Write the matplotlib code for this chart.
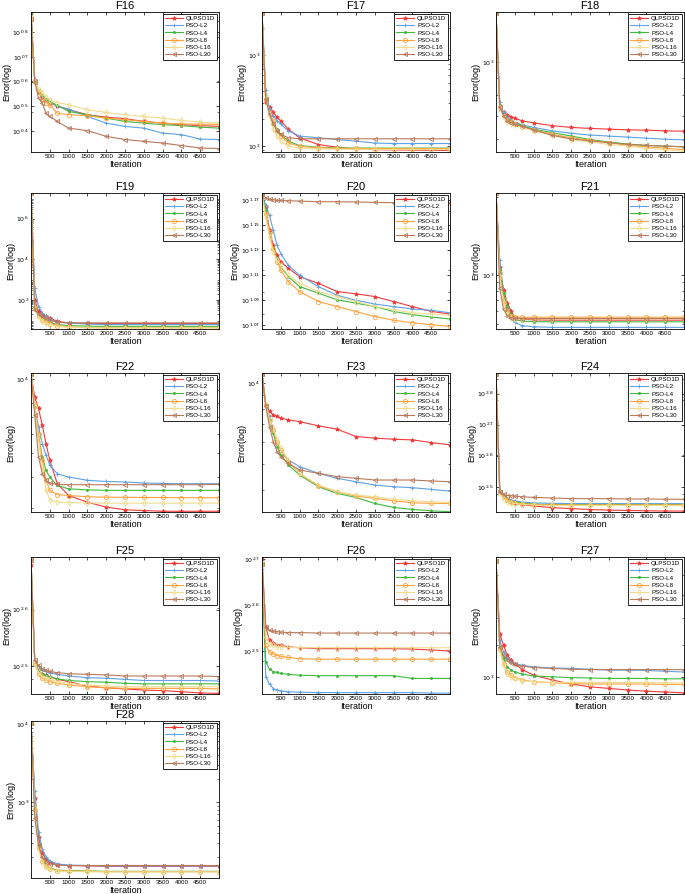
import numpy as np
import matplotlib.pyplot as plt
from matplotlib.ticker import FixedLocator, FuncFormatter, NullFormatter, LogLocator

plt.rcParams['font.family'] = ['Liberation Sans', 'DejaVu Sans']

iterations = [1, 100, 200, 300, 400, 500, 700, 1000, 1500, 2000, 2500, 3000, 3500, 4000, 4500, 5000]
algorithms = ['QLPSO1D', 'PSO-L2', 'PSO-L4', 'PSO-L8', 'PSO-L16', 'PSO-L30']

# log10 of mean error, one row per algorithm (same order as algorithms)
f16 = [
    [0.876, 0.607, 0.56, 0.54, 0.527, 0.516, 0.503, 0.487, 0.467, 0.457, 0.451, 0.44, 0.433, 0.427, 0.423, 0.42],
    [0.87, 0.60, 0.56, 0.54, 0.528, 0.516, 0.50, 0.49, 0.46, 0.433, 0.42, 0.413, 0.393, 0.387, 0.369, 0.367],
    [0.87, 0.60, 0.565, 0.545, 0.53, 0.52, 0.505, 0.48, 0.467, 0.453, 0.44, 0.433, 0.427, 0.423, 0.417, 0.413],
    [0.86, 0.60, 0.56, 0.53, 0.515, 0.507, 0.473, 0.467, 0.463, 0.453, 0.447, 0.44, 0.433, 0.43, 0.429, 0.428],
    [0.85, 0.60, 0.57, 0.553, 0.54, 0.527, 0.516, 0.507, 0.487, 0.476, 0.467, 0.46, 0.453, 0.444, 0.437, 0.433],
    [0.85, 0.60, 0.533, 0.513, 0.473, 0.46, 0.44, 0.413, 0.403, 0.38, 0.367, 0.36, 0.353, 0.343, 0.333, 0.331],
]
f17 = [
    [3.46, 2.485, 2.43, 2.373, 2.317, 2.28, 2.187, 2.093, 2.019, 1.989, 1.97, 1.963, 1.96, 1.958, 1.956, 1.955],
    [3.46, 2.616, 2.41, 2.336, 2.28, 2.243, 2.168, 2.112, 2.093, 2.075, 2.056, 2.035, 2.03, 2.03, 2.03, 2.03],
    [3.46, 2.522, 2.336, 2.261, 2.187, 2.13, 2.056, 2.007, 1.989, 1.982, 1.98, 1.98, 1.98, 1.98, 1.98, 1.98],
    [3.46, 2.52, 2.37, 2.28, 2.168, 2.112, 2.037, 2.0, 1.985, 1.978, 1.976, 1.975, 1.975, 1.975, 1.975, 1.975],
    [3.46, 2.56, 2.336, 2.187, 2.112, 2.056, 2.0, 1.98, 1.97, 1.968, 1.966, 1.965, 1.965, 1.965, 1.965, 1.965],
    [3.46, 2.52, 2.355, 2.243, 2.168, 2.13, 2.093, 2.082, 2.082, 2.082, 2.082, 2.082, 2.082, 2.082, 2.082, 2.082],
]
f18 = [
    [3.14, 2.865, 2.855, 2.847, 2.842, 2.837, 2.83, 2.824, 2.816, 2.811, 2.808, 2.806, 2.804, 2.803, 2.801, 2.8],
    [3.14, 2.884, 2.855, 2.84, 2.832, 2.825, 2.818, 2.811, 2.801, 2.794, 2.789, 2.786, 2.783, 2.78, 2.777, 2.775],
    [3.14, 2.875, 2.847, 2.835, 2.829, 2.824, 2.816, 2.806, 2.796, 2.786, 2.776, 2.769, 2.763, 2.759, 2.757, 2.755],
    [3.14, 2.87, 2.845, 2.833, 2.826, 2.82, 2.811, 2.804, 2.791, 2.781, 2.774, 2.767, 2.759, 2.755, 2.751, 2.747],
    [3.14, 2.867, 2.84, 2.827, 2.822, 2.818, 2.811, 2.801, 2.788, 2.776, 2.769, 2.762, 2.757, 2.751, 2.747, 2.742],
    [3.14, 2.87, 2.845, 2.83, 2.825, 2.82, 2.814, 2.804, 2.788, 2.778, 2.772, 2.767, 2.762, 2.759, 2.757, 2.755],
]
f19 = [
    [7.25, 2.0, 1.43, 1.27, 1.18, 1.1, 0.94, 0.86, 0.84, 0.83, 0.83, 0.83, 0.83, 0.83, 0.83, 0.83],
    [7.25, 2.57, 1.67, 1.35, 1.18, 1.05, 0.9, 0.86, 0.8, 0.78, 0.78, 0.78, 0.78, 0.78, 0.78, 0.78],
    [7.25, 1.67, 1.27, 1.1, 0.98, 0.89, 0.78, 0.73, 0.7, 0.69, 0.69, 0.69, 0.69, 0.69, 0.69, 0.69],
    [7.25, 1.59, 1.22, 1.02, 0.9, 0.83, 0.73, 0.66, 0.63, 0.62, 0.62, 0.62, 0.62, 0.62, 0.62, 0.62],
    [7.25, 1.54, 1.18, 0.94, 0.85, 0.78, 0.69, 0.64, 0.62, 0.61, 0.61, 0.61, 0.61, 0.61, 0.61, 0.61],
    [7.25, 1.51, 1.31, 1.18, 1.1, 1.02, 0.89, 0.86, 0.86, 0.86, 0.86, 0.86, 0.86, 0.86, 0.86, 0.86],
]
f20 = [
    [1.175, 1.1646, 1.146, 1.134, 1.126, 1.121, 1.1156, 1.109, 1.1036, 1.097, 1.0952, 1.093, 1.089, 1.085, 1.0811, 1.079],
    [1.175, 1.166, 1.158, 1.146, 1.134, 1.1275, 1.118, 1.11, 1.101, 1.094, 1.09, 1.087, 1.085, 1.083, 1.082, 1.08],
    [1.175, 1.162, 1.143, 1.1314, 1.1235, 1.117, 1.109, 1.101, 1.0957, 1.0904, 1.0877, 1.085, 1.081, 1.0785, 1.0766, 1.075],
    [1.175, 1.159, 1.145, 1.131, 1.121, 1.114, 1.105, 1.097, 1.089, 1.085, 1.081, 1.077, 1.074, 1.072, 1.0705, 1.069],
    [1.175, 1.1566, 1.1407, 1.129, 1.122, 1.118, 1.11, 1.1036, 1.097, 1.093, 1.089, 1.085, 1.0825, 1.08, 1.079, 1.078],
    [1.175, 1.172, 1.171, 1.1705, 1.170, 1.170, 1.1698, 1.1695, 1.169, 1.169, 1.1688, 1.1685, 1.1682, 1.168, 1.1679, 1.1678],
]
f21 = [
    [3.5, 3.05, 2.91, 2.83, 2.78, 2.74, 2.73, 2.726, 2.724, 2.724, 2.724, 2.724, 2.724, 2.724, 2.724, 2.724],
    [3.5, 3.09, 2.89, 2.79, 2.74, 2.71, 2.69, 2.684, 2.68, 2.68, 2.68, 2.68, 2.68, 2.68, 2.68, 2.68],
    [3.5, 3.03, 2.89, 2.81, 2.76, 2.73, 2.718, 2.715, 2.714, 2.714, 2.714, 2.714, 2.714, 2.714, 2.714, 2.714],
    [3.5, 3.01, 2.85, 2.78, 2.75, 2.742, 2.742, 2.742, 2.742, 2.742, 2.742, 2.742, 2.742, 2.742, 2.742, 2.742],
    [3.5, 2.99, 2.83, 2.764, 2.74, 2.733, 2.732, 2.732, 2.732, 2.732, 2.732, 2.732, 2.732, 2.732, 2.732, 2.732],
    [3.5, 2.92, 2.79, 2.752, 2.738, 2.735, 2.734, 2.734, 2.734, 2.734, 2.734, 2.734, 2.734, 2.734, 2.734, 2.734],
]
f22 = [
    [4.02, 3.926, 3.881, 3.813, 3.738, 3.67, 3.575, 3.527, 3.5, 3.48, 3.469, 3.466, 3.463, 3.463, 3.463, 3.463],
    [4.02, 3.888, 3.807, 3.738, 3.691, 3.65, 3.616, 3.602, 3.589, 3.584, 3.582, 3.578, 3.576, 3.575, 3.575, 3.575],
    [4.02, 3.888, 3.766, 3.684, 3.629, 3.602, 3.568, 3.554, 3.55, 3.548, 3.548, 3.548, 3.548, 3.548, 3.548, 3.548],
    [4.02, 3.895, 3.779, 3.67, 3.589, 3.548, 3.531, 3.527, 3.522, 3.52, 3.52, 3.519, 3.519, 3.518, 3.518, 3.518],
    [4.02, 3.888, 3.752, 3.643, 3.548, 3.51, 3.5, 3.498, 3.497, 3.496, 3.496, 3.496, 3.496, 3.496, 3.496, 3.496],
    [4.02, 3.854, 3.684, 3.616, 3.589, 3.578, 3.572, 3.571, 3.571, 3.571, 3.571, 3.571, 3.571, 3.571, 3.571, 3.572],
]
f23 = [
    [4.034, 3.919, 3.894, 3.881, 3.875, 3.869, 3.8625, 3.856, 3.84, 3.8275, 3.8, 3.794, 3.79, 3.7875, 3.7775, 3.769],
    [4.034, 3.919, 3.875, 3.825, 3.781, 3.75, 3.7125, 3.6875, 3.6625, 3.644, 3.631, 3.619, 3.6125, 3.609, 3.6025, 3.596],
    [4.034, 3.919, 3.8625, 3.8125, 3.7625, 3.731, 3.694, 3.656, 3.6125, 3.5875, 3.5725, 3.55, 3.535, 3.5275, 3.5225, 3.519],
    [4.034, 3.919, 3.8625, 3.825, 3.781, 3.75, 3.706, 3.6625, 3.615, 3.594, 3.5775, 3.569, 3.56, 3.5525, 3.55, 3.55],
    [4.034, 3.919, 3.8625, 3.831, 3.7875, 3.756, 3.7125, 3.6625, 3.619, 3.594, 3.581, 3.575, 3.565, 3.56, 3.556, 3.554],
    [4.034, 3.9125, 3.8375, 3.781, 3.744, 3.725, 3.7, 3.675, 3.6625, 3.65, 3.644, 3.6375, 3.6375, 3.6375, 3.634, 3.631],
]
f24 = [
    [2.862, 2.487, 2.468, 2.459, 2.452, 2.448, 2.443, 2.438, 2.433, 2.43, 2.427, 2.425, 2.424, 2.423, 2.422, 2.422],
    [2.862, 2.489, 2.473, 2.462, 2.458, 2.455, 2.451, 2.448, 2.447, 2.446, 2.446, 2.446, 2.446, 2.446, 2.446, 2.446],
    [2.862, 2.484, 2.47, 2.459, 2.455, 2.452, 2.448, 2.444, 2.443, 2.443, 2.443, 2.443, 2.443, 2.443, 2.443, 2.443],
    [2.862, 2.484, 2.468, 2.457, 2.452, 2.448, 2.446, 2.443, 2.442, 2.442, 2.442, 2.442, 2.442, 2.442, 2.442, 2.442],
    [2.862, 2.481, 2.462, 2.452, 2.448, 2.446, 2.444, 2.441, 2.44, 2.44, 2.44, 2.44, 2.44, 2.44, 2.44, 2.44],
    [2.862, 2.484, 2.476, 2.472, 2.471, 2.47, 2.468, 2.466, 2.464, 2.462, 2.462, 2.462, 2.461, 2.461, 2.46, 2.46],
]
f25 = [
    [2.679, 2.507, 2.492, 2.485, 2.483, 2.481, 2.476, 2.472, 2.464, 2.461, 2.459, 2.457, 2.456, 2.454, 2.452, 2.451],
    [2.688, 2.51, 2.499, 2.492, 2.49, 2.488, 2.485, 2.482, 2.479, 2.478, 2.476, 2.474, 2.474, 2.474, 2.474, 2.473],
    [2.688, 2.507, 2.492, 2.486, 2.483, 2.481, 2.477, 2.474, 2.472, 2.471, 2.469, 2.468, 2.468, 2.468, 2.468, 2.468],
    [2.688, 2.504, 2.486, 2.478, 2.475, 2.472, 2.469, 2.466, 2.463, 2.461, 2.46, 2.46, 2.46, 2.46, 2.46, 2.459],
    [2.688, 2.505, 2.489, 2.481, 2.478, 2.476, 2.472, 2.469, 2.466, 2.464, 2.463, 2.463, 2.463, 2.463, 2.463, 2.463],
    [2.688, 2.51, 2.501, 2.495, 2.492, 2.49, 2.488, 2.486, 2.485, 2.484, 2.482, 2.482, 2.482, 2.482, 2.482, 2.481],
]
f26 = [
    [2.704, 2.552, 2.523, 2.517, 2.514, 2.512, 2.509, 2.507, 2.505, 2.505, 2.505, 2.505, 2.505, 2.504, 2.502, 2.5],
    [2.678, 2.444, 2.428, 2.418, 2.415, 2.413, 2.411, 2.41, 2.409, 2.409, 2.409, 2.409, 2.409, 2.409, 2.408, 2.408],
    [2.69, 2.476, 2.46, 2.455, 2.453, 2.451, 2.449, 2.447, 2.446, 2.446, 2.446, 2.446, 2.446, 2.44, 2.44, 2.44],
    [2.69, 2.512, 2.498, 2.493, 2.49, 2.488, 2.486, 2.483, 2.482, 2.482, 2.482, 2.482, 2.482, 2.482, 2.482, 2.482],
    [2.69, 2.53, 2.516, 2.512, 2.51, 2.509, 2.508, 2.507, 2.507, 2.507, 2.507, 2.507, 2.507, 2.507, 2.507, 2.507],
    [2.69, 2.552, 2.545, 2.543, 2.542, 2.541, 2.54, 2.54, 2.539, 2.539, 2.539, 2.539, 2.539, 2.539, 2.539, 2.539],
]
f27 = [
    [3.29, 3.108, 3.079, 3.054, 3.042, 3.033, 3.018, 3.004, 2.992, 2.982, 2.975, 2.971, 2.967, 2.964, 2.962, 2.96],
    [3.3, 3.091, 3.062, 3.046, 3.038, 3.033, 3.029, 3.025, 3.022, 3.021, 3.019, 3.017, 3.017, 3.016, 3.014, 3.012],
    [3.29, 3.075, 3.046, 3.025, 3.017, 3.012, 3.007, 3.002, 3.0, 2.998, 2.997, 2.996, 2.996, 2.996, 2.995, 2.995],
    [3.29, 3.07, 3.033, 3.012, 3.004, 2.998, 2.992, 2.988, 2.985, 2.983, 2.982, 2.982, 2.982, 2.982, 2.981, 2.981],
    [3.29, 3.066, 3.029, 3.008, 3.0, 2.996, 2.99, 2.988, 2.986, 2.986, 2.986, 2.986, 2.986, 2.986, 2.985, 2.985],
    [3.29, 3.075, 3.054, 3.041, 3.035, 3.031, 3.027, 3.023, 3.021, 3.019, 3.018, 3.018, 3.018, 3.018, 3.018, 3.018],
]
f28 = [
    [4.02, 3.05, 2.55, 2.35, 2.27, 2.23, 2.2, 2.19, 2.185, 2.18, 2.18, 2.18, 2.18, 2.18, 2.18, 2.18],
    [4.02, 3.15, 2.62, 2.4, 2.3, 2.25, 2.21, 2.195, 2.19, 2.185, 2.185, 2.185, 2.185, 2.185, 2.185, 2.185],
    [4.02, 2.95, 2.45, 2.27, 2.2, 2.16, 2.13, 2.125, 2.12, 2.115, 2.115, 2.115, 2.115, 2.115, 2.115, 2.115],
    [4.02, 2.9, 2.42, 2.25, 2.18, 2.15, 2.125, 2.12, 2.115, 2.11, 2.11, 2.11, 2.11, 2.11, 2.11, 2.11],
    [4.02, 2.92, 2.4, 2.23, 2.17, 2.14, 2.12, 2.115, 2.11, 2.108, 2.108, 2.108, 2.108, 2.108, 2.108, 2.108],
    [4.02, 2.8, 2.45, 2.3, 2.24, 2.21, 2.195, 2.19, 2.19, 2.19, 2.19, 2.19, 2.19, 2.19, 2.19, 2.19],
]

colors = ['#f23a3a', '#5ea2e2', '#3fba3f', '#ffa23c', '#efdc8e', '#b97a5c']
markers = ['*', '+', '.', 'o', 'd', '<']
hollow = [False, False, False, True, True, True]

# panel: (title, data, log10 y-limits, log10 y-ticks, left px, top px, bottom px)
W, H = 685, 894
cols = [31, 262, 496]
panels = [
    ('F16', f16, (0.317, 0.88), [0.4, 0.5, 0.6, 0.7, 0.8], cols[0], 12, 152),
    ('F17', f17, (1.937, 3.474), [2, 3], cols[1], 12, 152),
    ('F18', f18, (2.74, 3.144), [3], cols[2], 12, 152),
    ('F19', f19, (0.56, 7.27), [2, 4, 6], cols[0], 193, 329),
    ('F20', f20, (1.067, 1.176), [1.07, 1.09, 1.11, 1.13, 1.15, 1.17], cols[1], 193, 329),
    ('F21', f21, (2.67, 3.5), [3], cols[2], 193, 329),
    ('F22', f22, (3.46, 4.025), [4], cols[0], 373, 512),
    ('F23', f23, (3.518, 4.0375), [4], cols[1], 373, 512),
    ('F24', f24, (2.419, 2.866), [2.5, 2.6, 2.7, 2.8], cols[2], 373, 512),
    ('F25', f25, (2.45, 2.6935), [2.5, 2.6], cols[0], 557, 694),
    ('F26', f26, (2.406, 2.705), [2.5, 2.6, 2.7], cols[1], 557, 694),
    ('F27', f27, (2.957, 3.3), [3], cols[2], 557, 694),
    ('F28', f28, (2.03, 4.04), [3, 4], cols[0], 721, 878),
]

fig = plt.figure(figsize=(W / 100, H / 100), dpi=100)
fmt = FuncFormatter(lambda v, p: r'$10^{%g}$' % round(np.log10(v), 2))

for title, data, ylim, yticks, left, top, bottom in panels:
    ax = fig.add_axes([left / W, 1 - bottom / H, 188 / W, (bottom - top) / H])
    for i, name in enumerate(algorithms):
        ax.semilogy(iterations, 10 ** np.array(data[i]), color=colors[i], marker=markers[i],
                    ms=3, lw=0.8, mew=0.6, label=name,
                    mfc='none' if hollow[i] else colors[i])
    ax.set_xlim(0, 5000)
    ax.set_ylim(10 ** ylim[0], 10 ** ylim[1])
    ax.set_xticks(range(500, 5000, 500))
    ax.yaxis.set_major_locator(FixedLocator([10 ** t for t in yticks]))
    ax.yaxis.set_major_formatter(fmt)
    ax.yaxis.set_minor_locator(LogLocator(subs='auto'))
    ax.yaxis.set_minor_formatter(NullFormatter())
    ax.tick_params(which='both', direction='in', top=True, right=True, labelsize=4.5, pad=1.5)
    ax.tick_params(which='major', length=2.5, width=0.5)
    ax.tick_params(which='minor', length=1.2, width=0.4)
    for s in ax.spines.values():
        s.set_linewidth(0.6)
    ax.set_title(title, fontsize=8, pad=2)
    ax.set_xlabel('Iteration', fontsize=6.5, labelpad=1)
    ax.set_ylabel('Error(log)', fontsize=6.5, labelpad=1)
    leg = ax.legend(fontsize=4.5, loc='upper right', fancybox=False, edgecolor='black',
                    framealpha=1, borderpad=0.35, labelspacing=0.3, handlelength=2.8,
                    handletextpad=0.5, borderaxespad=0.25)
    leg.get_frame().set_linewidth(0.6)

fig.savefig('out.png', dpi=100)
